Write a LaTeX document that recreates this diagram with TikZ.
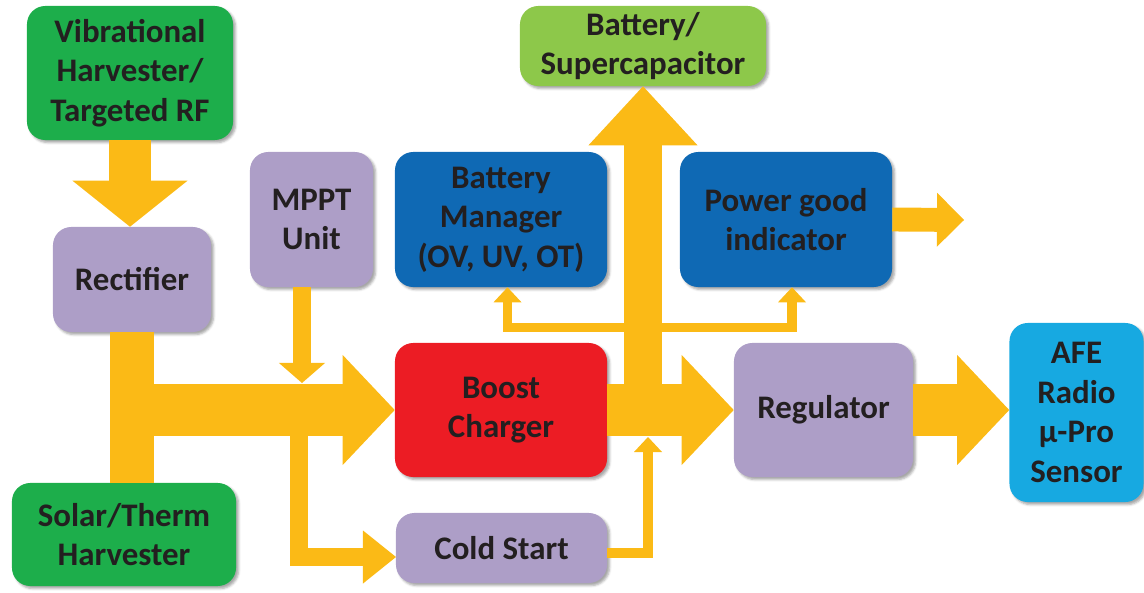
\documentclass[tikz,border=0pt]{standalone}
\usepackage{fontspec}
\setmainfont{Carlito}
\usepackage{xcolor}
\usetikzlibrary{positioning,arrows.meta,calc,shadows.blur}

\definecolor{harvgreen}{RGB}{29,174,75}
\definecolor{storegreen}{RGB}{141,200,74}
\definecolor{lavender}{RGB}{173,158,199}
\definecolor{mgrblue}{RGB}{15,105,180}
\definecolor{boostred}{RGB}{236,28,36}
\definecolor{loadcyan}{RGB}{23,169,225}
\definecolor{amber}{RGB}{251,186,22}
\definecolor{inkgray}{RGB}{35,31,32}

\begin{document}
\begin{tikzpicture}[
    x=0.025cm, y=-0.025cm,
    block/.style={rectangle, rounded corners=13pt, inner sep=0pt, align=center, text=inkgray, font=\bfseries\fontsize{23.4}{28.2}\selectfont, blur shadow={shadow xshift=1.8pt, shadow yshift=-1.8pt, shadow blur radius=1.6pt, shadow opacity=35}},
    band/.style={draw=amber, line width=31pt},
    fatflow/.style={draw=amber, line width=37pt, -{Triangle[width=2.75cm, length=1.3cm, line width=0pt]}},
    upflow/.style={draw=amber, line width=27.7pt, -{Triangle[width=2.725cm, length=1.475cm, line width=0pt]}},
    vibflow/.style={draw=amber, line width=29.9pt, -{Triangle[width=2.875cm, length=1.15cm, line width=0pt]}},
    pgflow/.style={draw=amber, line width=17pt, -{Triangle[width=1.35cm, length=0.675cm, line width=0pt]}},
    feedflow/.style={draw=amber, line width=12.8pt, -{Triangle[width=1.15cm, length=0.5cm, line width=0pt]}},
    startflow/.style={draw=amber, line width=12.1pt, -{Triangle[width=1.325cm, length=0.825cm, line width=0pt]}},
    slimflow/.style={draw=amber, line width=7.1pt, -{Triangle[width=0.7cm, length=0.375cm, line width=0pt]}}
]
    \useasboundingbox (0,0) rectangle (1144,592);

    % blocks
    \node[block, fill=harvgreen, minimum width=5.15cm, minimum height=3.35cm] (vib) at (130,73) {Vibrational\\Harvester/\\Targeted RF};
    \node[block, fill=lavender, minimum width=3.95cm, minimum height=2.625cm] (rect) at (132,279.5) {Rectifier};
    \node[block, fill=harvgreen, minimum width=5.6cm, minimum height=2.575cm] (solar) at (124,534.5) {Solar/Therm\\Harvester};
    \node[block, fill=lavender, minimum width=3.075cm, minimum height=3.375cm] (mppt) at (311.5,219.5) {MPPT\\Unit};
    \node[block, fill=mgrblue, minimum width=5.3cm, minimum height=3.375cm] (bm) at (501,219.5) {Battery\\Manager\\(OV, UV, OT)};
    \node[block, fill=storegreen, minimum width=6.15cm, minimum height=2cm] (batt) at (643,46) {Battery/\\Supercapacitor};
    \node[block, fill=mgrblue, minimum width=5.3cm, minimum height=3.375cm] (pg) at (786,219.5) {Power good\\indicator};
    \node[block, fill=boostred, minimum width=5.3cm, minimum height=3.35cm] (boost) at (501,410) {Boost\\Charger};
    \node[block, fill=lavender, minimum width=5.275cm, minimum height=1.75cm] (cold) at (501.5,548) {Cold Start};
    \node[block, fill=lavender, minimum width=4.475cm, minimum height=3.35cm] (reg) at (823.5,410) {Regulator};
    \node[block, fill=loadcyan, minimum width=3.35cm, minimum height=4.475cm] (afe) at (1076.5,412.5) {AFE\\Radio\\μ-Pro\\Sensor};

    % free ends
    \coordinate (mpptin) at (302,383);
    \coordinate (split) at (299,420);
    \coordinate (coldin) at (396,557);
    \coordinate (coldtap) at (607,553);
    \coordinate (coldout) at (648,437);
    \coordinate (tap) at (644,327.5);
    \coordinate (pgout) at (964,220);

    % harvesting path
    \draw[vibflow] (vib.south) -- (vib.south |- rect.north);
    \draw[band] (rect.south) -- (rect.south |- solar.north);
    \draw[fatflow] (rect.south |- boost.west) -- (boost.west);
    \draw[feedflow] (mppt.south -| mpptin) -- (mpptin);
    \draw[startflow] (split) |- (coldin);
    \draw[slimflow] (coldtap) -| (coldout);

    % storage and load
    \draw[upflow] (batt.south |- boost.east) -- (batt.south);
    \draw[slimflow] (tap) -| ($(bm.south)+(6.5,0)$);
    \draw[slimflow] (tap) -| ($(pg.south)+(6,0)$);
    \draw[pgflow] (pg.east) -- (pgout);
    \draw[fatflow] (boost.east) -- (reg.west);
    \draw[fatflow] (reg.east) -- (reg.east -| afe.west);

\end{tikzpicture}
\end{document}
